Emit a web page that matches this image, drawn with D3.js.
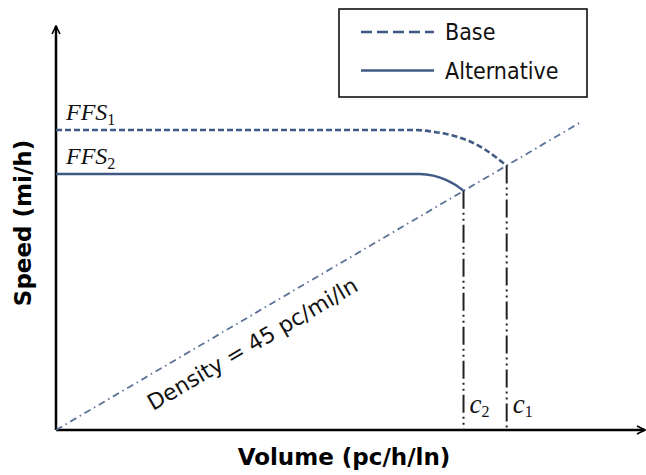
<!DOCTYPE html>
<html>
<head>
  <title>Speed-flow curves</title>
  <script src="https://cdn.jsdelivr.net/npm/d3@7"></script>
  <style>
    body { margin: 0; background: #fff; }
  </style>
</head>
<body>
<svg width="646" height="475"></svg>

<script>
  // data
  var baseVolume = [0, 2370, 2500, 2620, 2730, 2820, 2900, 2975];
  var baseSpeed  = [75, 75, 74.5, 73.6, 72.2, 70.4, 68.3, 66.1];
  var altVolume  = [0, 2400, 2490, 2570, 2635, 2690];
  var altSpeed   = [64, 64, 63.6, 62.6, 61.3, 59.8];
  var densityVolume = [0, 3470];
  var densitySpeed  = [0, 77.1];
  var capVolume = [2975, 2690];
  var capSpeed  = [66.1, 59.8];
  var capLabels = ["1", "2"];
  var ffsLabels = ["1", "2"];
  var ffsValues = [75, 64];
  var legendNames = ["Base", "Alternative"];

  var svg = d3.select("svg");
  var blue = "#405a85";

  var x = d3.scaleLinear().domain([0, 3888]).range([56, 645]);
  var y = d3.scaleLinear().domain([0, 101]).range([430, 26]);

  // arrow heads
  svg.append("defs").append("marker")
    .attr("id", "arrow")
    .attr("viewBox", "0 0 10 10")
    .attr("refX", 9).attr("refY", 5)
    .attr("markerWidth", 10).attr("markerHeight", 10)
    .attr("markerUnits", "userSpaceOnUse")
    .attr("orient", "auto")
    .append("path")
    .attr("d", "M1,1 L9,5 L1,9")
    .style("fill", "none")
    .style("stroke", "#000")
    .style("stroke-width", 1.6);

  // axes (no ticks)
  var xAxis = svg.append("g")
    .attr("transform", "translate(0," + y(0) + ")")
    .call(d3.axisBottom(x).ticks(0).tickSizeOuter(0));
  var yAxis = svg.append("g")
    .attr("transform", "translate(" + x(0) + ",0)")
    .call(d3.axisLeft(y).ticks(0).tickSizeOuter(0));
  xAxis.select(".domain").attr("d", "M" + x(0) + ",0H" + x.range()[1])
    .style("stroke-width", 2.5).attr("marker-end", "url(#arrow)");
  yAxis.select(".domain").attr("d", "M0," + y(0) + "V" + y.range()[1])
    .style("stroke-width", 2.5).attr("marker-end", "url(#arrow)");

  // density line
  var line = d3.line()
    .x(function(d) { return x(d[0]); })
    .y(function(d) { return y(d[1]); });

  svg.append("path")
    .datum(d3.zip(densityVolume, densitySpeed))
    .attr("d", line)
    .style("fill", "none")
    .style("stroke", "#5b7298")
    .style("stroke-width", 1.8)
    .style("stroke-dasharray", "7,4,1.5,4");

  // capacity drop lines
  svg.selectAll(".cap")
    .data(capVolume)
    .enter().append("line")
    .attr("class", "cap")
    .attr("x1", function(d) { return x(d); })
    .attr("x2", function(d) { return x(d); })
    .attr("y1", function(d, i) { return y(capSpeed[i]); })
    .attr("y2", y(0))
    .style("stroke", "#222")
    .style("stroke-width", 2)
    .style("stroke-dasharray", "18,4,2,4,2,4");

  // speed-flow curves
  var curve = d3.line()
    .curve(d3.curveMonotoneX)
    .x(function(d) { return x(d[0]); })
    .y(function(d) { return y(d[1]); });

  svg.append("path")
    .datum(d3.zip(baseVolume, baseSpeed))
    .attr("d", curve)
    .style("fill", "none")
    .style("stroke", blue)
    .style("stroke-width", 2.6)
    .style("stroke-dasharray", "6,3");

  svg.append("path")
    .datum(d3.zip(altVolume, altSpeed))
    .attr("d", curve)
    .style("fill", "none")
    .style("stroke", blue)
    .style("stroke-width", 2.4);

  // FFS labels
  var ffs = svg.selectAll(".ffs")
    .data(ffsValues)
    .enter().append("text")
    .attr("class", "ffs")
    .attr("x", 66)
    .attr("y", function(d) { return y(d) - 10; })
    .style("font-family", "'Liberation Serif', serif")
    .style("font-style", "italic")
    .style("font-size", "24px")
    .style("fill", "#111");
  ffs.append("tspan").text("FFS");
  ffs.append("tspan")
    .attr("dy", 5)
    .style("font-style", "normal")
    .style("font-size", "16px")
    .text(function(d, i) { return ffsLabels[i]; });

  // capacity labels
  var cap = svg.selectAll(".clab")
    .data(capVolume)
    .enter().append("text")
    .attr("class", "clab")
    .attr("x", function(d) { return x(d) + 6; })
    .attr("y", 413)
    .style("font-family", "'Liberation Serif', serif")
    .style("font-style", "italic")
    .style("font-size", "27px")
    .style("fill", "#111");
  cap.append("tspan").text("c");
  cap.append("tspan")
    .attr("dy", 4)
    .style("font-style", "normal")
    .style("font-size", "16px")
    .text(function(d, i) { return capLabels[i]; });

  // density label, along the line
  var ang = Math.atan2(y(0) - y(densitySpeed[1]), x(densityVolume[1]) - x(0)) * 180 / Math.PI;
  svg.append("text")
    .attr("transform", "translate(153,411) rotate(" + (-ang) + ")")
    .style("font-family", "'DejaVu Sans', sans-serif")
    .style("font-size", "22px")
    .style("fill", "#111")
    .text("Density = 45 pc/mi/ln");

  // axis titles
  svg.append("text")
    .attr("x", 344).attr("y", 465)
    .attr("text-anchor", "middle")
    .style("font-family", "'DejaVu Sans', sans-serif")
    .style("font-weight", "bold")
    .style("font-size", "23px")
    .text("Volume (pc/h/ln)");

  svg.append("text")
    .attr("transform", "translate(31,223) rotate(-90)")
    .attr("text-anchor", "middle")
    .style("font-family", "'DejaVu Sans', sans-serif")
    .style("font-weight", "bold")
    .style("font-size", "23px")
    .text("Speed (mi/h)");

  // legend
  var legend = svg.append("g");
  legend.append("rect")
    .attr("x", 339).attr("y", 9)
    .attr("width", 248).attr("height", 88)
    .style("fill", "#fff")
    .style("stroke", "#111")
    .style("stroke-width", 1.6);

  var rows = legend.selectAll(".row")
    .data(legendNames)
    .enter().append("g")
    .attr("class", "row")
    .attr("transform", function(d, i) { return "translate(0," + (32 + i * 38.5) + ")"; });

  rows.append("line")
    .attr("x1", 361).attr("x2", 434)
    .style("stroke", blue)
    .style("stroke-width", 2.5)
    .style("stroke-dasharray", function(d, i) { return i === 0 ? "11,5" : null; });

  rows.append("text")
    .attr("x", 445).attr("y", 8)
    .style("font-family", "'DejaVu Sans Condensed', 'DejaVu Sans', sans-serif")
    .style("font-stretch", "condensed")
    .style("font-size", "23px")
    .style("fill", "#111")
    .text(function(d) { return d; });
</script>
</body>
</html>
